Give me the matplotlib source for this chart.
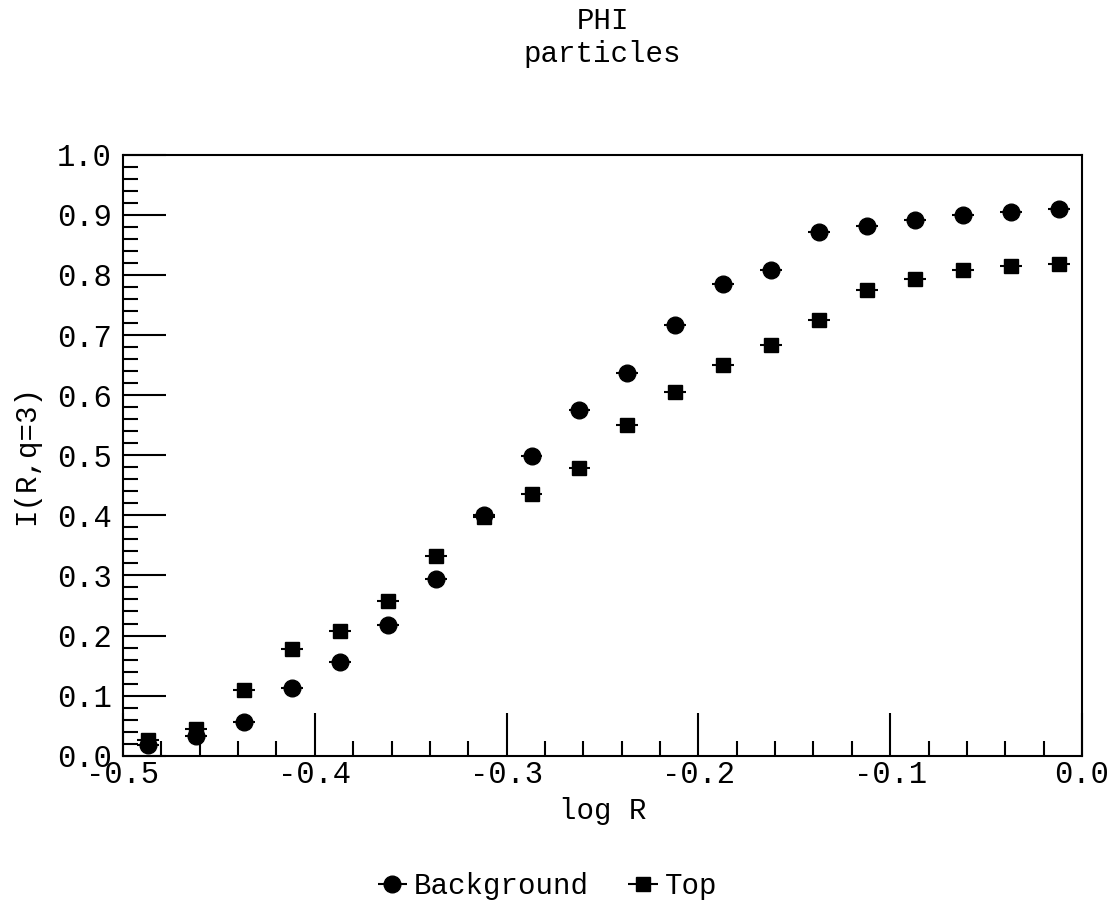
import numpy as np
import matplotlib
matplotlib.use("Agg")
import matplotlib.pyplot as plt
from matplotlib.ticker import MultipleLocator, FormatStrFormatter


# data
log_r = [-0.487, -0.462, -0.437, -0.412, -0.387, -0.362, -0.337, -0.312, -0.287, -0.262,
         -0.237, -0.212, -0.187, -0.162, -0.137, -0.112, -0.087, -0.062, -0.037, -0.012]

background = [0.018, 0.032, 0.056, 0.112, 0.156, 0.217, 0.294, 0.400, 0.499, 0.576,
              0.637, 0.717, 0.785, 0.808, 0.871, 0.881, 0.892, 0.899, 0.905, 0.909]

top = [0.027, 0.044, 0.110, 0.177, 0.207, 0.257, 0.332, 0.398, 0.435, 0.479,
       0.550, 0.605, 0.650, 0.684, 0.725, 0.775, 0.794, 0.808, 0.815, 0.818]

x_err = [0.0057] * len(log_r)

series_names = ["Background", "Top"]

plt.rcParams["font.family"] = ["Liberation Mono", "DejaVu Sans Mono"]
plt.rcParams["font.size"] = 21

fig = plt.figure(figsize=(11.15, 9.08), dpi=100)
ax = fig.add_axes([0.1103, 0.1677, 0.8601, 0.6619])

bg = ax.errorbar(log_r, background, xerr=x_err, fmt="o", color="black",
                 markersize=12, elinewidth=1.5, capsize=0, label=series_names[0])
tp = ax.errorbar(log_r, top, xerr=x_err, fmt="s", color="black",
                 markersize=10, elinewidth=1.5, capsize=0, label=series_names[1])

ax.set_xlim(-0.5, 0.0)
ax.set_ylim(0.0, 1.0)

ax.xaxis.set_major_locator(MultipleLocator(0.1))
ax.xaxis.set_minor_locator(MultipleLocator(0.02))
ax.yaxis.set_major_locator(MultipleLocator(0.1))
ax.yaxis.set_minor_locator(MultipleLocator(0.02))
ax.xaxis.set_major_formatter(FormatStrFormatter("%.1f"))
ax.yaxis.set_major_formatter(FormatStrFormatter("%.1f"))

ax.tick_params(which="both", direction="in", top=False, right=False,
               width=1.5, labelsize=22)
ax.tick_params(which="major", length=31)
ax.tick_params(which="minor", length=11)
ax.tick_params(axis="y", which="major", pad=8)
ax.tick_params(axis="x", which="major", pad=3)

for s in ax.spines.values():
    s.set_linewidth(1.5)

ax.set_xlabel("log R", fontsize=21, labelpad=5)
ax.set_ylabel("I(R,q=3)", fontsize=21, labelpad=12)

fig.text(0.5404, 0.992, "PHI\nparticles", ha="center", va="top",
         fontsize=21, linespacing=1.2)

fig.legend(handles=[bg, tp], labels=series_names, loc="center",
           bbox_to_anchor=(0.489, 0.024), ncol=2, frameon=False,
           handlelength=1.3, handletextpad=0.1, columnspacing=1.2,
           fontsize=21)

fig.savefig("out.png", dpi=100)
